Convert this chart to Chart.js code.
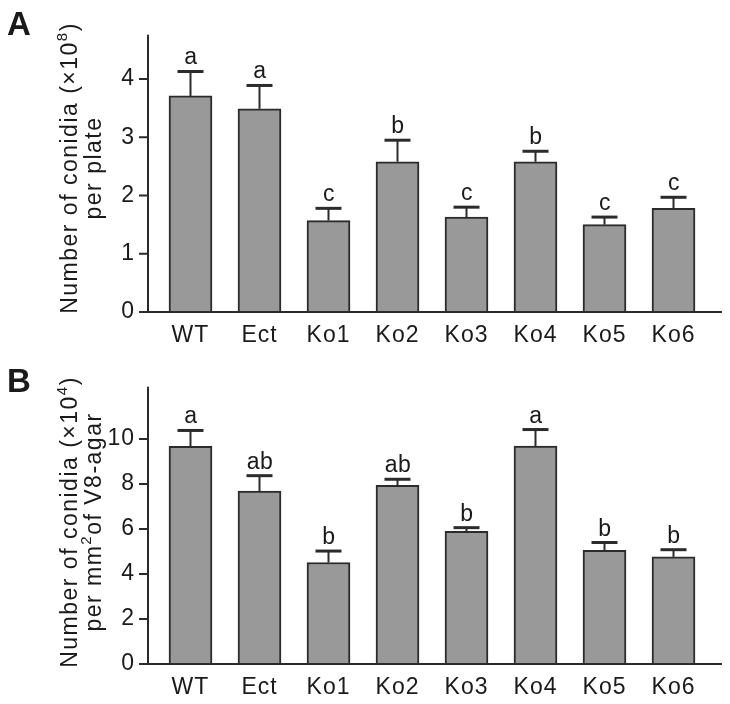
<!DOCTYPE html>
<html>
<head>
<meta charset="utf-8">
<script src="https://cdn.jsdelivr.net/npm/chart.js@4/dist/chart.umd.min.js"></script>
<style>
  body { margin: 0; background: #fff; }
  .panel { position: absolute; left: 0; width: 730px; height: 352px; }
</style>
</head>
<body>
<div class="panel" style="top:0"><canvas id="chartA" width="730" height="352"></canvas></div>
<div class="panel" style="top:352px"><canvas id="chartB" width="730" height="352"></canvas></div>
<script>
const categories = ["WT", "Ect", "Ko1", "Ko2", "Ko3", "Ko4", "Ko5", "Ko6"];

// A: conidia per plate (x10^8)
const plateMeans = [3.71, 3.49, 1.57, 2.58, 1.63, 2.58, 1.50, 1.78];
const plateErrors = [0.42, 0.40, 0.21, 0.37, 0.17, 0.18, 0.13, 0.19];
const plateGroups = ["a", "a", "c", "b", "c", "b", "c", "c"];
const plateTicks = [0, 1, 2, 3, 4];

// B: conidia per mm2 of V8-agar (x10^4)
const areaMeans = [9.67, 7.69, 4.51, 7.94, 5.90, 9.69, 5.05, 4.76];
const areaErrors = [0.71, 0.68, 0.51, 0.27, 0.16, 0.73, 0.35, 0.32];
const areaGroups = ["a", "ab", "b", "ab", "b", "a", "b", "b"];
const areaTicks = [0, 2, 4, 6, 8, 10];

const ink = "#2b2b2b";
const textColor = "#1a1a1a";
const fontFamily = "'Liberation Sans', Arial, sans-serif";

// draws a line of text made of normal and superscript pieces, centred on x
function drawPieces(ctx, pieces, x, y, size) {
    const widths = pieces.map(p => {
        ctx.font = (p.sup ? Math.round(size * 0.65) : size) + "px " + fontFamily;
        return ctx.measureText(p.t).width;
    });
    let cx = x - widths.reduce((s, w) => s + w, 0) / 2;
    pieces.forEach((p, i) => {
        ctx.font = (p.sup ? Math.round(size * 0.65) : size) + "px " + fontFamily;
        ctx.fillText(p.t, cx, p.sup ? y - size * 0.42 : y);
        cx += widths[i];
    });
}

const extrasPlugin = {
    id: "extras",
    beforeDraw(chart) {
        chart.ctx.letterSpacing = "1px";
    },
    afterDatasetsDraw(chart, args, opts) {
        const ctx = chart.ctx;
        const area = chart.chartArea;
        const y = chart.scales.y;
        const meta = chart.getDatasetMeta(0);
        const axisX = area.left - 8;
        const zeroY = y.getPixelForValue(0);

        ctx.save();
        ctx.strokeStyle = ink;
        ctx.fillStyle = textColor;
        ctx.lineWidth = 2;
        ctx.beginPath();
        ctx.moveTo(axisX, area.top);
        ctx.lineTo(axisX, zeroY);
        ctx.moveTo(axisX - 9, zeroY);
        ctx.lineTo(area.right + 14, zeroY);
        y.ticks.forEach(t => {
            const ty = y.getPixelForValue(t.value);
            ctx.moveTo(axisX - 9, ty);
            ctx.lineTo(axisX, ty);
        });
        ctx.stroke();

        // error bars and group letters
        ctx.letterSpacing = "0.5px";
        ctx.font = "23px " + fontFamily;
        ctx.textAlign = "center";
        ctx.textBaseline = "alphabetic";
        meta.data.forEach((bar, i) => {
            const topY = y.getPixelForValue(opts.means[i]);
            const capY = y.getPixelForValue(opts.means[i] + opts.errors[i]);
            ctx.lineWidth = 2;
            ctx.beginPath();
            ctx.moveTo(bar.x, topY);
            ctx.lineTo(bar.x, capY);
            ctx.stroke();
            ctx.lineWidth = 3;
            ctx.beginPath();
            ctx.moveTo(bar.x - 13, capY);
            ctx.lineTo(bar.x + 13, capY);
            ctx.stroke();
            ctx.fillText(opts.groups[i], bar.x + 0.5, capY - 7);
        });

        // y axis title, two lines
        ctx.letterSpacing = "1.5px";
        ctx.textAlign = "left";
        ctx.save();
        ctx.translate(0, opts.titleY);
        ctx.rotate(-Math.PI / 2);
        drawPieces(ctx, opts.title[0], 0, 77, 23);
        drawPieces(ctx, opts.title[1], 0, 101, 23);
        ctx.restore();

        ctx.letterSpacing = "0px";
        ctx.font = "bold 33px " + fontFamily;
        ctx.fillText(opts.tag, 7, opts.tagY);
        ctx.restore();
    }
};

function makeChart(canvasId, means, errors, groups, ticks, yMax, title, titleY, tag, tagY, topPad) {
    const ctx = document.getElementById(canvasId).getContext("2d");
    return new Chart(ctx, {
        type: "bar",
        data: {
            labels: categories,
            datasets: [{
                data: means,
                backgroundColor: "#999999",
                borderColor: ink,
                borderWidth: 2,
                barThickness: 43
            }]
        },
        options: {
            responsive: false,
            animation: false,
            layout: { padding: { top: topPad, right: 22, left: 0, bottom: 0 } },
            plugins: {
                legend: { display: false },
                tooltip: { enabled: false },
                extras: { means: means, errors: errors, groups: groups, title: title, titleY: titleY, tag: tag, tagY: tagY }
            },
            scales: {
                x: {
                    grid: { display: false, drawTicks: false },
                    border: { display: false },
                    ticks: { color: textColor, font: { size: 23, family: fontFamily }, padding: 10, maxRotation: 0 },
                    afterFit(scale) { scale.height = 40; }
                },
                y: {
                    min: 0,
                    max: yMax,
                    grid: { display: false, drawTicks: false },
                    border: { display: false },
                    afterBuildTicks(scale) { scale.ticks = ticks.map(v => ({ value: v })); },
                    ticks: { color: textColor, font: { size: 23, family: fontFamily }, padding: 21 },
                    afterFit(scale) { scale.width = 156; }
                }
            }
        },
        plugins: [extrasPlugin]
    });
}

makeChart("chartA", plateMeans, plateErrors, plateGroups, plateTicks, 4.76,
    [[{ t: "Number of conidia (\u00d710" }, { t: "8", sup: true }, { t: ")" }], [{ t: "per plate" }]],
    168, "A", 35, 15);
makeChart("chartB", areaMeans, areaErrors, areaGroups, areaTicks, 12.32,
    [[{ t: "Number of conidia (\u00d710" }, { t: "4", sup: true }, { t: ")" }], [{ t: "per mm" }, { t: "2", sup: true }, { t: "of V8-agar" }]],
    170, "B", 40, 10);
</script>
</body>
</html>
